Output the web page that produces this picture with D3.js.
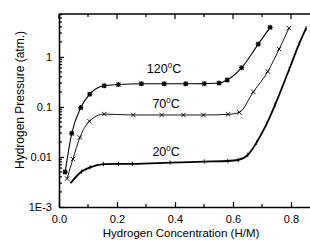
<!DOCTYPE html>
<html>
<head>
<meta charset="utf-8">
<script src="https://cdn.jsdelivr.net/npm/d3@7"></script>
<style>
  body { margin: 0; background: #fff; }
  text { font-family: "Liberation Sans", Arial, sans-serif; fill: #000; }
</style>
</head>
<body>
<div class="chart"></div>
<script>
// Hydrogen pressure-composition isotherms
var svgWidth = 310;
var svgHeight = 240;

var margin = { top: 14, right: -10, bottom: 33, left: 59 };

var width = svgWidth - margin.left - margin.right;
var height = svgHeight - margin.top - margin.bottom;

// Data: [H/M, pressure atm]
var iso120 = [
    [0.021, 0.0050], [0.044, 0.0297], [0.075, 0.097], [0.106, 0.18], [0.156, 0.265],
    [0.205, 0.28], [0.284, 0.29], [0.363, 0.29], [0.437, 0.29], [0.501, 0.292],
    [0.552, 0.30], [0.580, 0.345], [0.630, 0.61], [0.687, 1.8], [0.728, 3.9]
];
var iso70 = [
    [0.028, 0.0037], [0.048, 0.0091], [0.072, 0.0245], [0.105, 0.052], [0.156, 0.072],
    [0.256, 0.069], [0.354, 0.069], [0.429, 0.069], [0.498, 0.069], [0.583, 0.071],
    [0.622, 0.078], [0.670, 0.20], [0.720, 0.51], [0.759, 1.43], [0.793, 3.75]
];
var iso20 = [
    [0.040, 0.0030], [0.078, 0.0051], [0.107, 0.0062], [0.153, 0.0072], [0.205, 0.0073],
    [0.253, 0.0073], [0.383, 0.0077], [0.501, 0.0081], [0.582, 0.0083], [0.618, 0.0087],
    [0.651, 0.011], [0.681, 0.0193], [0.716, 0.0457], [0.745, 0.11], [0.794, 0.567],
    [0.829, 1.88], [0.852, 3.75]
];

var seriesNames = ["120", "70", "20"];
var labelPos = [[0.303, 0.48], [0.322, 0.095], [0.322, 0.0105]];
var xTicks = [0.0, 0.2, 0.4, 0.6, 0.8];
var yTicks = [0.001, 0.01, 0.1, 1];
var yTickLabels = ["1E-3", "0.01", "0.1", "1"];

var svg = d3.select(".chart")
    .append("svg")
    .attr("width", svgWidth)
    .attr("height", svgHeight)
    .append("g")
    .attr("transform", "translate(" + margin.left + "," + margin.top + ")");

var xScale = d3.scaleLinear().domain([0, 0.9]).range([0, width]);
var yScale = d3.scaleLog().domain([0.001, 7.2]).range([height, 0]);

// minor ticks
var xMinor = d3.range(0.1, 0.9, 0.2);
var yMinor = [];
[0.001, 0.01, 0.1, 1].forEach(function(d) {
    for (var i = 2; i <= 9; i++) {
        if (d * i <= 7.2) yMinor.push(d * i);
    }
});

var bottomAxis = d3.axisBottom(xScale).tickValues(xTicks)
    .tickFormat(d3.format(".1f")).tickSizeInner(-5).tickSizeOuter(0).tickPadding(8);
var leftAxis = d3.axisLeft(yScale).tickValues(yTicks)
    .tickFormat(function(d, i) { return yTickLabels[i]; })
    .tickSizeInner(-5).tickSizeOuter(0).tickPadding(7);

var xAxisG = svg.append("g")
    .attr("transform", "translate(0," + height + ")")
    .call(bottomAxis);
var yAxisG = svg.append("g").call(leftAxis);

[xAxisG, yAxisG].forEach(function(g) {
    g.selectAll("text").style("font-size", "11px").style("font-family", "Liberation Sans, Arial");
    g.selectAll("line").attr("stroke", "#000").attr("stroke-width", 1.2);
    g.select(".domain").attr("stroke", "#000").attr("stroke-width", 1.6);
});

// minor ticks bottom / top / left
svg.append("g").selectAll("line")
    .data(xMinor).enter().append("line")
    .attr("x1", function(d) { return xScale(d); })
    .attr("x2", function(d) { return xScale(d); })
    .attr("y1", height).attr("y2", height - 3)
    .attr("stroke", "#000").attr("stroke-width", 1.2);

svg.append("g").selectAll("line")
    .data(xTicks.concat(xMinor)).enter().append("line")
    .attr("x1", function(d) { return xScale(d); })
    .attr("x2", function(d) { return xScale(d); })
    .attr("y1", 0).attr("y2", function(d, i) { return i < xTicks.length ? 5 : 3; })
    .attr("stroke", "#000").attr("stroke-width", 1.2);

svg.append("g").selectAll("line")
    .data(yMinor).enter().append("line")
    .attr("x1", 0).attr("x2", 3)
    .attr("y1", function(d) { return yScale(d); })
    .attr("y2", function(d) { return yScale(d); })
    .attr("stroke", "#000").attr("stroke-width", 1.2);

// top frame line
svg.append("line")
    .attr("x1", 0).attr("x2", width)
    .attr("y1", 0).attr("y2", 0)
    .attr("stroke", "#000").attr("stroke-width", 1.6);

// curves
var line = d3.line()
    .x(function(d) { return xScale(d[0]); })
    .y(function(d) { return yScale(d[1]); })
    .curve(d3.curveMonotoneX);

var allSeries = [iso120, iso70, iso20];
var widths = [1.1, 0.9, 1.8];

allSeries.forEach(function(data, k) {
    svg.append("path")
        .datum(data)
        .attr("d", line)
        .attr("fill", "none")
        .attr("stroke", "#000")
        .attr("stroke-width", widths[k]);
});

// markers
function markerPath(k) {
    if (k === 0) return "M-2,-2L2,2M-2,2L2,-2M0,-2.5L0,2.5M-2.5,0L2.5,0";
    if (k === 1) return "M-2.2,-2.2L2.2,2.2M-2.2,2.2L2.2,-2.2";
    return "M0,-2.2L0,2.2";
}

allSeries.forEach(function(data, k) {
    svg.append("g").selectAll("path")
        .data(data.slice(k === 2 ? 1 : 0))
        .enter().append("path")
        .attr("transform", function(d) { return "translate(" + xScale(d[0]) + "," + yScale(d[1]) + ")"; })
        .attr("d", markerPath(k))
        .attr("fill", "none")
        .attr("stroke", "#000")
        .attr("stroke-width", k === 0 ? 1.2 : 0.9);
});

// isotherm labels
seriesNames.forEach(function(name, k) {
    var t = svg.append("text")
        .attr("x", xScale(labelPos[k][0]))
        .attr("y", yScale(labelPos[k][1]))
        .style("font-size", "12.5px");
    t.append("tspan").text(name);
    t.append("tspan").attr("dy", -5).style("font-size", "8px").text("0");
    t.append("tspan").attr("dy", 5).text("C");
});

// axis titles
svg.append("text")
    .attr("x", 122)
    .attr("y", height + 30)
    .attr("text-anchor", "middle")
    .style("font-size", "11.5px")
    .text("Hydrogen Concentration (H/M)");

svg.append("text")
    .attr("transform", "rotate(-90)")
    .attr("x", -(100 - margin.top))
    .attr("y", -35)
    .attr("text-anchor", "middle")
    .style("font-size", "12px")
    .text("Hydrogen Pressure (atm.)");
</script>
</body>
</html>
